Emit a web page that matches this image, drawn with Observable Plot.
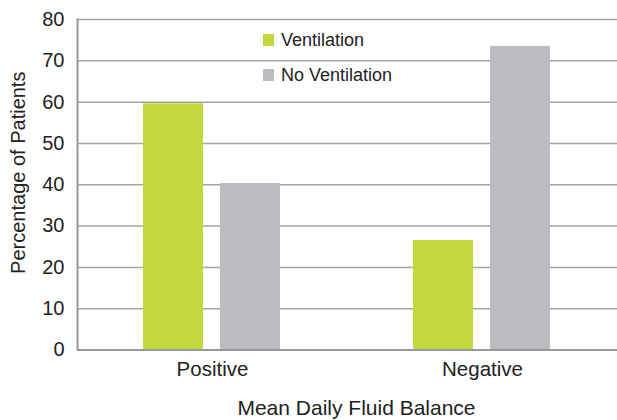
<!DOCTYPE html>
<html>
<head>
<meta charset="utf-8">
<script src="https://cdn.jsdelivr.net/npm/d3@7"></script>
<script src="https://cdn.jsdelivr.net/npm/@observablehq/plot@0.6"></script>
<style>
  body { margin: 0; background: #fff; }
  #chart { position: relative; width: 617px; height: 420px; font-family: "Liberation Sans", Arial, sans-serif; color: #222; }
  .lg-sw { position: absolute; width: 11px; height: 12px; }
  .lg-tx { position: absolute; font-size: 18px; line-height: 18px; white-space: nowrap; color: #222; }
</style>
</head>
<body>
<div id="chart"></div>
<script>
// ---- data ----
const categories = ["Positive", "Negative"];
const series = ["Ventilation", "No Ventilation"];
const ventilation = [59.6, 26.5];
const noVentilation = [40.3, 73.5];
const yTicks = [0, 10, 20, 30, 40, 50, 60, 70, 80];
const colors = ["#c3d83f", "#bcbdc1"];
const yLabel = "Percentage of Patients";
const xLabel = "Mean Daily Fluid Balance";

const data = categories.flatMap((c, i) => [
  { category: c, series: series[0], value: ventilation[i] },
  { category: c, series: series[1], value: noVentilation[i] }
]);

const plot = Plot.plot({
  width: 617,
  height: 420,
  marginLeft: 77,
  marginRight: 0,
  marginTop: 19,
  marginBottom: 70.5,
  style: { fontFamily: "Liberation Sans, Arial, sans-serif", fontSize: "20px", color: "#222", background: "#fff" },
  fx: { domain: categories, padding: 0, label: null },
  x: { domain: series, axis: null, paddingInner: 0.22, paddingOuter: 0.85 },
  y: { domain: [0, 80], label: null },
  color: { domain: series, range: colors },
  marks: [
    Plot.gridY(yTicks, { stroke: "#a5a5a5", strokeOpacity: 1, strokeWidth: 1.5 }),
    Plot.barY(data, { fx: "category", x: "series", y: "value", fill: "series" }),
    Plot.ruleY([0], { stroke: "#98989b", strokeWidth: 2 }),
    Plot.frame({ anchor: "left", facet: "super", stroke: "#98989b", strokeWidth: 2 }),
    Plot.axisY(yTicks, { tickSize: 0, tickPadding: 13, fontSize: 20, label: null }),
    Plot.axisFx({ anchor: "bottom", tickSize: 0, tickPadding: 11, fontSize: 20.5, label: null }),
    Plot.text([yLabel], { text: d => d, facet: "super", frameAnchor: "left", textAnchor: "middle", rotate: -90, dx: -59, dy: -12, fontSize: 20 }),
    Plot.text([xLabel], { text: d => d, facet: "super", frameAnchor: "bottom", textAnchor: "middle", dx: 9, dy: 64.5, lineAnchor: "bottom", fontSize: 21 })
  ]
});

const chart = document.getElementById("chart");
chart.appendChild(plot);

// legend (inside plot area)
const legendTops = [34, 69];
series.forEach((s, i) => {
  const sw = document.createElement("div");
  sw.className = "lg-sw";
  sw.style.left = "263px";
  sw.style.top = legendTops[i] + "px";
  sw.style.background = colors[i];
  chart.appendChild(sw);
  const tx = document.createElement("div");
  tx.className = "lg-tx";
  tx.style.left = "281px";
  tx.style.top = (legendTops[i] - 3.2) + "px";
  tx.textContent = s;
  chart.appendChild(tx);
});
</script>
</body>
</html>
